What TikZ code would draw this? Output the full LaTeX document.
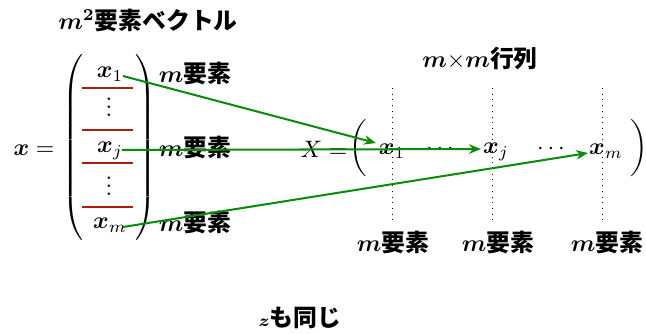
\documentclass[tikz,border=0pt]{standalone}
\usepackage{amsmath,bm}
\usepackage{fontspec}
\newfontfamily\cjk{Noto Sans CJK JP}
\usetikzlibrary{arrows.meta}
\definecolor{grn}{RGB}{10,140,10}
\definecolor{redl}{RGB}{170,30,10}
\tikzset{
  lbl/.style={inner sep=0pt, font=\cjk\bfseries},
  mth/.style={inner sep=0pt},
  conn/.style={grn, line width=0.85pt, -{Stealth[length=5pt,width=4pt]}},
  sepline/.style={redl, line width=0.8pt},
  guide/.style={dotted, line width=0.4pt}
}
\newcommand\mlab{$\bm{m}$要素}
\newcommand\myvdots{\vbox{\baselineskip3.4pt\lineskiplimit0pt\hbox{.}\hbox{.}\hbox{.}}}
\begin{document}
\begin{tikzpicture}[x=0.42pt,y=-0.42pt]
\useasboundingbox (0,0) rectangle (646,333);
% title
\node[lbl] (title) at (148,20) {$\bm{m}^{\bm{2}}$要素ベクトル};
% vector x
\node[mth] (xeq) at (34,150) {$\bm{x} =$};
\node[mth] (lpar) at (74,149) {$\left(\vrule height 38pt depth 38pt width 0pt\right.$};
\node[mth] (rpar) at (144,149) {$\left.\vrule height 38pt depth 38pt width 0pt\right)$};
\node[mth] (v1) at (110,74) {$\bm{x}_1$};
\node[mth] (vd1) at (109,107) {\myvdots};
\node[mth] (vj) at (110,151) {$\bm{x}_j$};
\node[mth] (vd2) at (109,186) {\myvdots};
\node[mth] (vm) at (110,225) {$\bm{x}_m$};
\coordinate (r1a) at (82,88);  \coordinate (r1b) at (133,88);
\coordinate (r2a) at (82,130); \coordinate (r2b) at (133,130);
\coordinate (r3a) at (82,163); \coordinate (r3b) at (133,163);
\coordinate (r4a) at (82,207); \coordinate (r4b) at (133,207);
\draw[sepline] (r1a) -- (r1b);
\draw[sepline] (r2a) -- (r2b);
\draw[sepline] (r3a) -- (r3b);
\draw[sepline] (r4a) -- (r4b);
% side labels
\node[lbl] (L1) at (195,73) {\mlab};
\node[lbl] (L2) at (195,147) {\mlab};
\node[lbl] (L3) at (195,222) {\mlab};
% matrix X
\node[lbl] (mtitle) at (480,58) {$\bm{m}{\times}\bm{m}$行列};
\node[mth] (Xeq) at (324,149) {$X =$};
\node[mth] (mlp) at (360,149) {$\left(\vrule height 10pt depth 10pt width 0pt\right.$};
\node[mth] (c1) at (392,151) {$\bm{x}_1$};
\node[mth] (d1) at (442,149) {$\cdots$};
\node[mth] (cj) at (496,152) {$\bm{x}_j$};
\node[mth] (d2) at (553,149) {$\cdots$};
\node[mth] (cm) at (606,151) {$\bm{x}_m$};
\node[mth] (mrp) at (638,149) {$\left.\vrule height 10pt depth 10pt width 0pt\right)$};
\coordinate (g1a) at (392,88); \coordinate (g1b) at (392,223);
\coordinate (g2a) at (492,88); \coordinate (g2b) at (492,223);
\coordinate (g3a) at (602,88); \coordinate (g3b) at (602,223);
\draw[guide] (g1a) -- (g1b);
\draw[guide] (g2a) -- (g2b);
\draw[guide] (g3a) -- (g3b);
\node[lbl] (B1) at (393,242) {\mlab};
\node[lbl] (B2) at (498,242) {\mlab};
\node[lbl] (B3) at (607,242) {\mlab};
% arrows
\coordinate (s1) at (123,76);
\coordinate (s2) at (122,150);
\coordinate (s3) at (123,227);
\coordinate (t1) at (376,143);
\coordinate (t2) at (481,149);
\coordinate (t3) at (588,153);
\draw[conn] (s1) -- (t1);
\draw[conn] (s2) -- (t2);
\draw[conn] (s3) -- (t3);
% footer
\node[lbl] (foot) at (300,318) {$\scriptstyle\bm{z}$も同じ};
\end{tikzpicture}
\end{document}
